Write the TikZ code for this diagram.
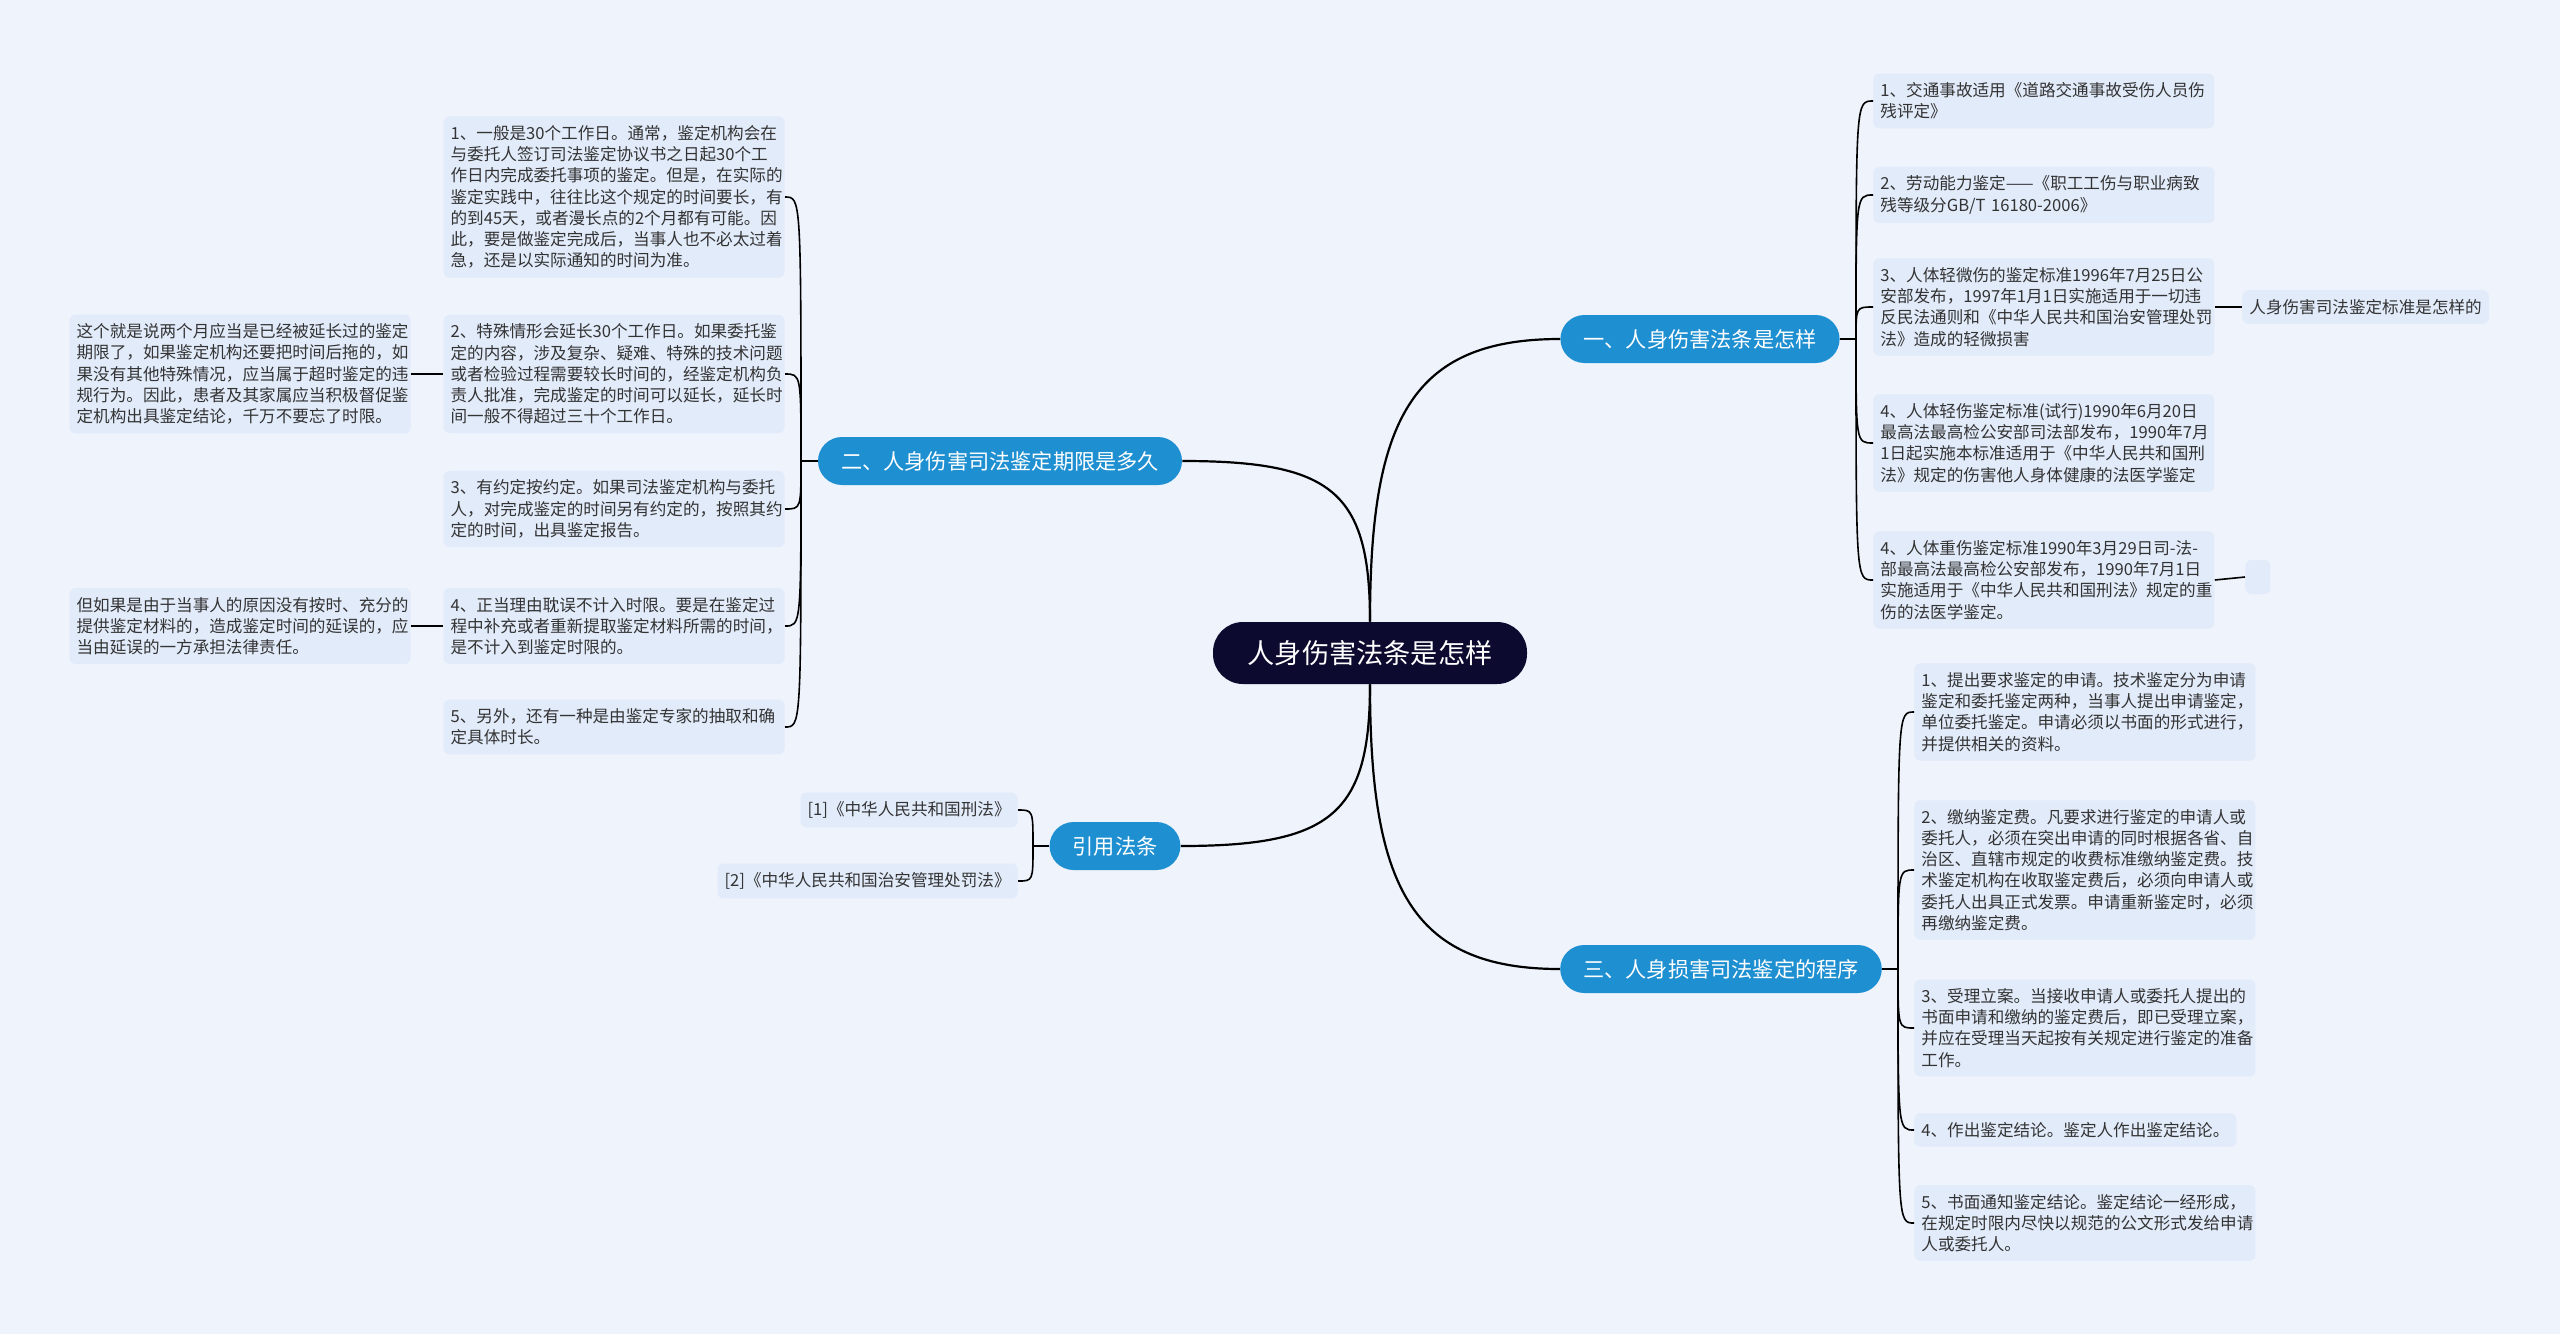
\documentclass[tikz,border=0pt]{standalone}
\usepackage{fontspec}
\setmainfont{Noto Sans CJK SC}
\definecolor{bgblue}{HTML}{EEF3FC}
\definecolor{leafblue}{HTML}{E2EBFA}
\definecolor{topicblue}{HTML}{1E8FD0}
\definecolor{rootnavy}{HTML}{0C0A2F}
\definecolor{leaftext}{HTML}{333333}
\begin{document}
\begin{tikzpicture}[x=0.5pt,y=-0.5pt,
    root/.style={fill=rootnavy,text=white,rounded corners=15pt,minimum width=157pt,
      minimum height=31pt,font=\fontsize{13.6}{16}\selectfont},
    topic/.style={fill=topicblue,text=white,rounded corners=12pt,minimum height=24pt,
      inner xsep=11.5pt,font=\fontsize{10.6}{13}\selectfont},
    leaf/.style={fill=leafblue,text=leaftext,rounded corners=3pt,inner xsep=3.5pt,
      inner ysep=4.5pt,align=left,font=\fontsize{8.3}{10.6}\selectfont},
    wide/.style={leaf,text width=163.5pt},
    link/.style={line width=1.1pt},
    twig/.style={line width=0.8pt}]
  \useasboundingbox[fill=bgblue] (0,0) rectangle (2560,1334);

  % centre and main topics
  \node[root] (root) at (1370,653) {人身伤害法条是怎样};
  \node[topic] (law) at (1700,339) {一、人身伤害法条是怎样};
  \node[topic] (time) at (1000,461) {二、人身伤害司法鉴定期限是多久};
  \node[topic] (proc) at (1721,969) {三、人身损害司法鉴定的程序};
  \node[topic] (cite) at (1115,846) {引用法条};

  \draw[link] (root.north) .. controls +(0,-200) and +(-150,0) .. (law.west);
  \draw[link] (root.north) .. controls +(0,-130) and +(150,0) .. (time.east);
  \draw[link] (root.south) .. controls +(0,200) and +(-150,0) .. (proc.west);
  \draw[link] (root.south) .. controls +(0,130) and +(150,0) .. (cite.east);

  % 一、standards
  \node[wide,anchor=west] (law1) at (1873,101)
    {1、交通事故适用《道路交通事故受伤人员伤\\残评定》};
  \node[wide,anchor=west] (law2) at (1873,195)
    {2、劳动能力鉴定——《职工工伤与职业病致\\残等级分GB/T 16180-2006》};
  \node[wide,anchor=west] (law3) at (1873,307)
    {3、人体轻微伤的鉴定标准1996年7月25日公\\安部发布，1997年1月1日实施适用于一切违\\反民法通则和《中华人民共和国治安管理处罚\\法》造成的轻微损害};
  \node[wide,anchor=west] (law4) at (1873,443)
    {4、人体轻伤鉴定标准(试行)1990年6月20日\\最高法最高检公安部司法部发布，1990年7月\\1日起实施本标准适用于《中华人民共和国刑\\法》规定的伤害他人身体健康的法医学鉴定};
  \node[wide,anchor=west] (law5) at (1873,580)
    {4、人体重伤鉴定标准1990年3月29日司-法-\\部最高法最高检公安部发布，1990年7月1日\\实施适用于《中华人民共和国刑法》规定的重\\伤的法医学鉴定。};
  \node[leaf,anchor=west] (law3a) at (2242,307) {人身伤害司法鉴定标准是怎样的};
  \node[leaf,anchor=west,minimum width=12.5pt,minimum height=17pt] (law5a) at (2245,577) {};

  \coordinate (jlaw) at (1856,339);
  \draw[twig] (law.east) -- (jlaw);
  \foreach \n in {law1,law2,law3,law4,law5}
    \draw[twig] (jlaw) .. controls (jlaw |- \n.west) .. (\n.west);
  \draw[twig] (law3.east) -- (law3a.west);
  \draw[twig] (law5.east) -- (law5a.west);

  % 二、time limits
  \node[wide,anchor=east] (time1) at (785,197)
    {1、一般是30个工作日。通常，鉴定机构会在\\与委托人签订司法鉴定协议书之日起30个工\\作日内完成委托事项的鉴定。但是，在实际的\\鉴定实践中，往往比这个规定的时间要长，有\\的到45天，或者漫长点的2个月都有可能。因\\此，要是做鉴定完成后，当事人也不必太过着\\急，还是以实际通知的时间为准。};
  \node[wide,anchor=east] (time2) at (785,374)
    {2、特殊情形会延长30个工作日。如果委托鉴\\定的内容，涉及复杂、疑难、特殊的技术问题\\或者检验过程需要较长时间的，经鉴定机构负\\责人批准，完成鉴定的时间可以延长，延长时\\间一般不得超过三十个工作日。};
  \node[wide,anchor=east] (time3) at (785,509)
    {3、有约定按约定。如果司法鉴定机构与委托\\人，对完成鉴定的时间另有约定的，按照其约\\定的时间，出具鉴定报告。};
  \node[wide,anchor=east] (time4) at (785,626)
    {4、正当理由耽误不计入时限。要是在鉴定过\\程中补充或者重新提取鉴定材料所需的时间，\\是不计入到鉴定时限的。};
  \node[wide,anchor=east] (time5) at (785,727)
    {5、另外，还有一种是由鉴定专家的抽取和确\\定具体时长。};
  \node[wide,anchor=east] (time2a) at (411,374)
    {这个就是说两个月应当是已经被延长过的鉴定\\期限了，如果鉴定机构还要把时间后拖的，如\\果没有其他特殊情况，应当属于超时鉴定的违\\规行为。因此，患者及其家属应当积极督促鉴\\定机构出具鉴定结论，千万不要忘了时限。};
  \node[wide,anchor=east] (time4a) at (411,626)
    {但如果是由于当事人的原因没有按时、充分的\\提供鉴定材料的，造成鉴定时间的延误的，应\\当由延误的一方承担法律责任。};

  \coordinate (jtime) at (801,461);
  \draw[twig] (time.west) -- (jtime);
  \foreach \n in {time1,time2,time3,time4,time5}
    \draw[twig] (jtime) .. controls (jtime |- \n.east) .. (\n.east);
  \draw[twig] (time2.west) -- (time2a.east);
  \draw[twig] (time4.west) -- (time4a.east);

  % 三、procedure
  \node[wide,anchor=west] (proc1) at (1914,712)
    {1、提出要求鉴定的申请。技术鉴定分为申请\\鉴定和委托鉴定两种，当事人提出申请鉴定，\\单位委托鉴定。申请必须以书面的形式进行，\\并提供相关的资料。};
  \node[wide,anchor=west] (proc2) at (1914,870)
    {2、缴纳鉴定费。凡要求进行鉴定的申请人或\\委托人，必须在突出申请的同时根据各省、自\\治区、直辖市规定的收费标准缴纳鉴定费。技\\术鉴定机构在收取鉴定费后，必须向申请人或\\委托人出具正式发票。申请重新鉴定时，必须\\再缴纳鉴定费。};
  \node[wide,anchor=west] (proc3) at (1914,1028)
    {3、受理立案。当接收申请人或委托人提出的\\书面申请和缴纳的鉴定费后，即已受理立案，\\并应在受理当天起按有关规定进行鉴定的准备\\工作。};
  \node[leaf,anchor=west] (proc4) at (1914,1130)
    {4、作出鉴定结论。鉴定人作出鉴定结论。};
  \node[wide,anchor=west] (proc5) at (1914,1223)
    {5、书面通知鉴定结论。鉴定结论一经形成，\\在规定时限内尽快以规范的公文形式发给申请\\人或委托人。};

  \coordinate (jproc) at (1898,969);
  \draw[twig] (proc.east) -- (jproc);
  \foreach \n in {proc1,proc2,proc3,proc4,proc5}
    \draw[twig] (jproc) .. controls (jproc |- \n.west) .. (\n.west);

  % cited laws
  \node[leaf,anchor=east] (cite1) at (1018,810) {[1]《中华人民共和国刑法》};
  \node[leaf,anchor=east] (cite2) at (1018,881) {[2]《中华人民共和国治安管理处罚法》};

  \coordinate (jcite) at (1033,846);
  \draw[twig] (cite.west) -- (jcite);
  \foreach \n in {cite1,cite2}
    \draw[twig] (jcite) .. controls (jcite |- \n.east) .. (\n.east);
\end{tikzpicture}
\end{document}
